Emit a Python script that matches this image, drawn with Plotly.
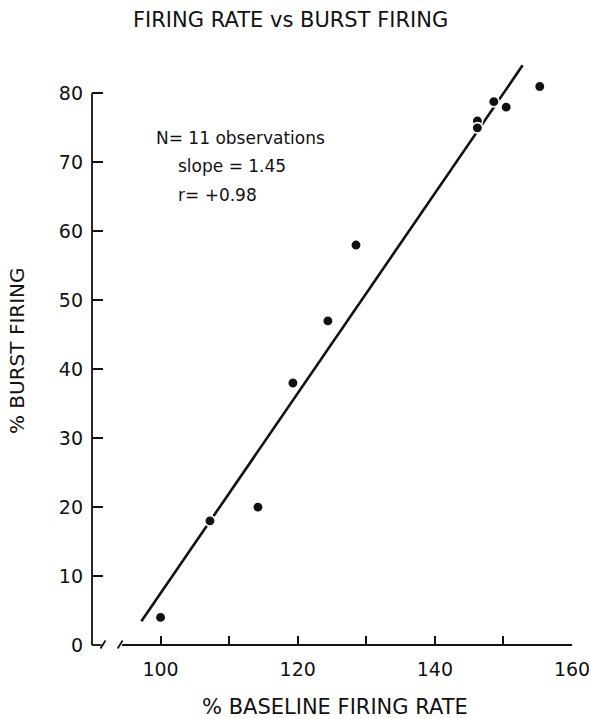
import plotly.graph_objects as go

# Observations: baseline firing rate (%) vs burst firing (%)
baseline_rate = [100.0, 107.2, 114.2, 119.3, 124.4, 128.5, 146.2, 146.2, 148.6, 150.4, 155.3]
burst_firing = [4.0, 18.0, 20.0, 38.0, 47.0, 58.0, 76.0, 75.0, 78.8, 78.0, 81.0]

# Regression summary
n_obs = 11
fit_slope = 1.45
fit_r = 0.98
fit_anchor = (125.1, 43.9)      # point the fitted line passes through
fit_x_span = [97.2, 152.8]

x_ticks = [100, 110, 120, 130, 140, 150, 160]
x_tick_text = ["100", "", "120", "", "140", "", "160"]
y_ticks = [0, 10, 20, 30, 40, 50, 60, 70, 80]

X_RANGE = [90, 160]
Y_RANGE = [0, 86]      # headroom above the last tick for the top point and line
Y_AXIS_TOP = 80

FONT = "DejaVu Sans"
INK = "#111111"

fit_y = [fit_anchor[1] + fit_slope * (x - fit_anchor[0]) for x in fit_x_span]

fig = go.Figure()
fig.add_trace(go.Scatter(
    x=fit_x_span, y=fit_y, mode="lines",
    line=dict(color=INK, width=2.6), hoverinfo="skip", cliponaxis=False,
))
fig.add_trace(go.Scatter(
    x=baseline_rate, y=burst_firing, mode="markers",
    marker=dict(color=INK, size=10.5, line=dict(color="white", width=1.6)),
    cliponaxis=False,
))

W, H = 591, 719
M = dict(l=92, r=19, t=52, b=74)
pw = W - M["l"] - M["r"]
ph = H - M["t"] - M["b"]
BASE = H - M["b"]      # pixel row of the x axis


def px_x(v):
    return (v - X_RANGE[0]) / (X_RANGE[1] - X_RANGE[0])


def px_y(v):
    return (v - Y_RANGE[0]) / (Y_RANGE[1] - Y_RANGE[0])


axis_style = dict(type="line", xref="paper", yref="paper", line=dict(color=INK, width=1.8))
shapes = [
    # y axis line up to the last tick
    dict(axis_style, x0=0, x1=0, y0=0, y1=px_y(Y_AXIS_TOP)),
    # broken x axis line
    dict(axis_style, x0=0, x1=px_x(91.4), y0=0, y1=0),
    dict(axis_style, x0=px_x(94.4), x1=1, y0=0, y1=0),
]
for cx in (91.6, 94.1):
    shapes.append(dict(axis_style,
                       x0=px_x(cx) - 2.5 / pw, y0=-3.5 / ph,
                       x1=px_x(cx) + 2.5 / pw, y1=4.5 / ph))

annotations = [
    dict(text="FIRING RATE vs BURST FIRING", xref="paper", yref="paper",
         x=(290 - M["l"]) / pw, y=(BASE - 20) / ph, xanchor="center", yanchor="middle",
         showarrow=False, font=dict(family=FONT, size=21, color=INK)),
    dict(text="% BURST FIRING", xref="paper", yref="paper", textangle=-90,
         x=(17 - M["l"]) / pw, y=(BASE - 351) / ph, xanchor="center", yanchor="middle",
         showarrow=False, font=dict(family=FONT, size=20, color=INK)),
    dict(text="% BASELINE FIRING RATE", xref="paper", yref="paper",
         x=(335 - M["l"]) / pw, y=-(707 - BASE) / ph, xanchor="center", yanchor="middle",
         showarrow=False, font=dict(family=FONT, size=21, color=INK)),
    dict(text=f"N= {n_obs} observations", xref="x", yref="y", x=99.1, y=73.6,
         xanchor="left", yanchor="middle", showarrow=False,
         font=dict(family=FONT, size=17, color=INK)),
    dict(text=f"slope = {fit_slope:.2f}", xref="x", yref="y", x=102.2, y=69.4,
         xanchor="left", yanchor="middle", showarrow=False,
         font=dict(family=FONT, size=17, color=INK)),
    dict(text=f"r= +{fit_r:.2f}", xref="x", yref="y", x=102.2, y=65.3,
         xanchor="left", yanchor="middle", showarrow=False,
         font=dict(family=FONT, size=17, color=INK)),
]

fig.update_layout(
    width=W, height=H, margin=M,
    paper_bgcolor="white", plot_bgcolor="white",
    showlegend=False,
    shapes=shapes, annotations=annotations,
    font=dict(family=FONT, color=INK),
)
fig.update_xaxes(
    range=X_RANGE, showgrid=False, zeroline=False, showline=False, automargin=False,
    tickmode="array", tickvals=x_ticks, ticktext=x_tick_text,
    ticks="inside", ticklen=9, tickwidth=1.6, tickcolor=INK,
    tickfont=dict(family=FONT, size=19, color=INK), ticklabelstandoff=11,
)
fig.update_yaxes(
    range=Y_RANGE, showgrid=False, zeroline=False, showline=False, automargin=False,
    tickmode="array", tickvals=y_ticks,
    ticks="inside", ticklen=11, tickwidth=1.6, tickcolor=INK,
    tickfont=dict(family=FONT, size=19, color=INK), ticklabelstandoff=8,
)

fig.write_html("out.html")
